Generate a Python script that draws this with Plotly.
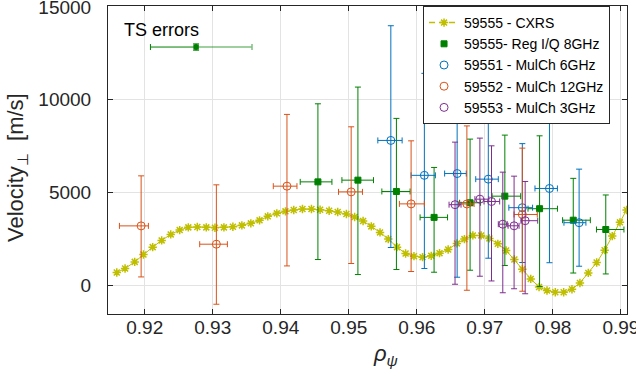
import plotly.graph_objects as go

# ---------------- data ----------------
# CXRS profile (shot 59555)
cxrs_x = [0.91589, 0.91711, 0.91853, 0.91981, 0.92117, 0.92249, 0.92382, 0.92514, 0.92641, 0.92773,
          0.92905, 0.93032, 0.93164, 0.93296, 0.93428, 0.93560, 0.93688, 0.93809, 0.93942, 0.94069,
          0.94191, 0.94319, 0.94451, 0.94578, 0.94711, 0.94837, 0.94965, 0.95086, 0.95210, 0.95331,
          0.95459, 0.95581, 0.95709, 0.95835, 0.95958, 0.96084, 0.96212, 0.96334, 0.96461, 0.96589,
          0.96700, 0.96824, 0.96946, 0.97067, 0.97191, 0.97313, 0.97434, 0.97552, 0.97675, 0.97797,
          0.97914, 0.98036, 0.98159, 0.98281, 0.98398, 0.98521, 0.98644, 0.98761, 0.98873, 0.98986,
          0.99084]
cxrs_y = [686, 903, 1259, 1659, 2054, 2416, 2740, 2973, 3119, 3135,
          3119, 3097, 3119, 3151, 3227, 3335, 3497, 3713, 3875, 3983,
          4054, 4108, 4108, 4070, 4016, 3946, 3838, 3675, 3459, 3173,
          2848, 2486, 2054, 1713, 1567, 1513, 1584, 1730, 1930, 2254,
          2486, 2686, 2686, 2524, 2232, 1876, 1389, 865, 341, -92,
          -286, -378, -378, -216, 124, 665, 1227, 1892, 2648, 3389,
          4054]

# 59555 - Reg I/Q 8GHz
reg_x = [0.94546, 0.95134, 0.95700, 0.96254, 0.96783, 0.97294, 0.97805, 0.98300, 0.98778]
reg_y = [5572, 5664, 5054, 3657, 4445, 4801, 4126, 3506, 3004]
reg_xm = [0.00260, 0.00235, 0.00214, 0.00206, 0.00154, 0.00188, 0.00170, 0.00157, 0.00137]
reg_xp = [0.00206, 0.00229, 0.00201, 0.00198, 0.00154, 0.00233, 0.00263, 0.00251, 0.00267]
reg_ym = [4186, 5087, 4207, 2956, 3636, 3738, 4191, 2848, 2395]
reg_yp = [4207, 5016, 3938, 2692, 3431, 3290, 3927, 2255, 1861]

# 59551 - MulCh 6GHz
m6_x = [0.95618, 0.96111, 0.96593, 0.97051, 0.97551, 0.97950, 0.98386]
m6_y = [7805, 5923, 6020, 5718, 4180, 5216, 3371]
m6_xm = [0.00191, 0.00195, 0.00184, 0.00185, 0.00198, 0.00213, 0.00223]
m6_xp = [0.00166, 0.00162, 0.00134, 0.00147, 0.00151, 0.00117, 0.00100]
m6_ym = [5772, 5022, 5588, 4261, 2956, 4002, 2346]
m6_yp = [6182, 5497, 5588, 5000, 3452, 6000, 2886]

# 59552 - MulCh 12GHz
m12_x = [0.91947, 0.93053, 0.94091, 0.95035, 0.95916, 0.96736, 0.97551]
m12_y = [3199, 2212, 5340, 5033, 4385, 4380, 3814]
m12_xm = [0.00319, 0.00245, 0.00201, 0.00186, 0.00172, 0.00115, 0.00122]
m12_xp = [0.00107, 0.00162, 0.00147, 0.00166, 0.00195, 0.00106, 0.00220]
m12_ym = [2751, 3236, 4299, 3862, 3646, 4650, 4137]
m12_yp = [2697, 3199, 3867, 3506, 3398, 4207, 3576]

# 59553 - MulCh 3GHz
m3_x = [0.96562, 0.96927, 0.97098, 0.97264, 0.97430, 0.97593]
m3_y = [4342, 4639, 4515, 3290, 3204, 3479]
m3_xm = [0.00088, 0.00073, 0.00110, 0.00066, 0.00088, 0.00062]
m3_xp = [0.00088, 0.00132, 0.00120, 0.00066, 0.00073, 0.00184]
m3_ym = [4288, 4153, 4283, 3695, 3393, 3938]
m3_yp = [3371, 3290, 2999, 2805, 2675, 2114]

# TS errors example
ts_x = [0.92755]
ts_y = [12838]
ts_xm = [0.00671]
ts_xp = [0.00822]
ts_yerr = [170]

x_ticks = [0.92, 0.93, 0.94, 0.95, 0.96, 0.97, 0.98, 0.99]
x_ticktext = ["0.92", "0.93", "0.94", "0.95", "0.96", "0.97", "0.98", "0.99"]
y_ticks = [0, 5000, 10000, 15000]
y_ticktext = ["0", "5000", "10000", "15000"]

names = ["59555 - CXRS", "59555- Reg I/Q 8GHz", "59551 - MulCh 6GHz",
         "59552 - MulCh 12GHz", "59553 - MulCh 3GHz"]

# ---------------- styling ----------------
C_CXRS = "#BFBF00"
C_GREEN = "#008000"
C_BLUE = "#0072BD"
C_ORANGE = "#D95319"
C_PURPLE = "#7E2F8E"
TXT = "#262626"
FONT = "Liberation Sans, Arial, Helvetica, sans-serif"

fig = go.Figure()

# CXRS profile (solid in plot, dashed legend entry)
fig.add_trace(go.Scatter(
    x=cxrs_x, y=cxrs_y, mode="lines+markers", showlegend=False,
    line=dict(color=C_CXRS, width=1),
    marker=dict(symbol="asterisk-open", size=7, color=C_CXRS, line=dict(color=C_CXRS, width=1.5)),
))
fig.add_trace(go.Scatter(
    x=[None], y=[None], mode="lines+markers", name=names[0],
    line=dict(color=C_CXRS, width=1.5, dash="6px,4px"),
    marker=dict(symbol="asterisk-open", size=7, color=C_CXRS, line=dict(color=C_CXRS, width=1.5)),
))


def err_trace(x, y, xm, xp, ym, yp, color, symbol, size, name):
    return go.Scatter(
        x=x, y=y, mode="markers", name=name,
        marker=dict(symbol=symbol, size=size, color=color, line=dict(color=color, width=1)),
        error_x=dict(type="data", symmetric=False, array=xp, arrayminus=xm,
                     color=color, thickness=1, width=3),
        error_y=dict(type="data", symmetric=False, array=yp, arrayminus=ym,
                     color=color, thickness=1, width=3),
    )


fig.add_trace(err_trace(reg_x, reg_y, reg_xm, reg_xp, reg_ym, reg_yp, C_GREEN, "square", 6, names[1]))
fig.add_trace(err_trace(m6_x, m6_y, m6_xm, m6_xp, m6_ym, m6_yp, C_BLUE, "circle-open", 8, names[2]))
fig.add_trace(err_trace(m12_x, m12_y, m12_xm, m12_xp, m12_ym, m12_yp, C_ORANGE, "circle-open", 8, names[3]))
fig.add_trace(err_trace(m3_x, m3_y, m3_xm, m3_xp, m3_ym, m3_yp, C_PURPLE, "circle-open", 8, names[4]))

# TS errors: light right half, dark left half
fig.add_trace(go.Scatter(
    x=ts_x, y=ts_y, mode="markers", showlegend=False,
    marker=dict(symbol="square", size=5, color=C_GREEN),
    error_x=dict(type="data", symmetric=False, array=ts_xp, arrayminus=[0],
                 color="rgba(0,128,0,0.5)", thickness=1.5, width=3),
))
fig.add_trace(go.Scatter(
    x=ts_x, y=ts_y, mode="markers", showlegend=False,
    marker=dict(symbol="square", size=5, color=C_GREEN),
    error_x=dict(type="data", symmetric=False, array=[0], arrayminus=ts_xm,
                 color=C_GREEN, thickness=1, width=3),
    error_y=dict(type="data", array=ts_yerr, color=C_GREEN, thickness=1, width=3),
))

fig.add_annotation(x=0.9225, y=13780, text="TS errors", showarrow=False,
                   font=dict(family=FONT, size=18, color="#000000"),
                   xanchor="center", yanchor="middle")

# Axis titles as annotations (precise placement)
fig.add_annotation(xref="paper", yref="paper", x=-0.1753, y=0.474,
                   text="Velocity<sub>⊥</sub>&nbsp;&nbsp;[m/s]", textangle=-90,
                   showarrow=False, xanchor="center", yanchor="middle",
                   font=dict(family=FONT, size=22, color=TXT))
fig.add_annotation(xref="paper", yref="paper", x=0.535, y=-0.1315,
                   text="<i>ρ</i><sub><i>ψ</i></sub>",
                   showarrow=False, xanchor="center", yanchor="middle",
                   font=dict(family=FONT, size=22, color=TXT))

axis_common = dict(
    showline=True, linecolor=TXT, linewidth=1, mirror="ticks",
    ticks="inside", ticklen=5, tickcolor=TXT, tickwidth=1,
    showgrid=True, gridcolor="#e3e3e3", gridwidth=1, zeroline=False,
    tickfont=dict(family=FONT, size=19, color=TXT), automargin=False,
    ticklabeloverflow="allow",
)

fig.update_layout(
    width=636, height=376,
    margin=dict(l=108, r=9, t=6, b=62, pad=0, autoexpand=False),
    paper_bgcolor="white", plot_bgcolor="white",
    font=dict(family=FONT, color=TXT),
    xaxis=dict(range=[0.9146, 0.9909], tickvals=x_ticks, ticktext=x_ticktext,
               ticklabelstandoff=-4, **axis_common),
    yaxis=dict(range=[-1550, 15050], tickvals=y_ticks, ticktext=y_ticktext,
               ticklabelstandoff=12, **axis_common),
    legend=dict(x=0.607, y=1.0, xanchor="left", yanchor="top",
                bgcolor="white", bordercolor=TXT, borderwidth=1,
                font=dict(family=FONT, size=14, color="#000000"),
                tracegroupgap=0, itemwidth=30),
    showlegend=True,
)

fig.write_html("out.html", config={"displayModeBar": False},
               post_script="document.body.style.margin='0';")
